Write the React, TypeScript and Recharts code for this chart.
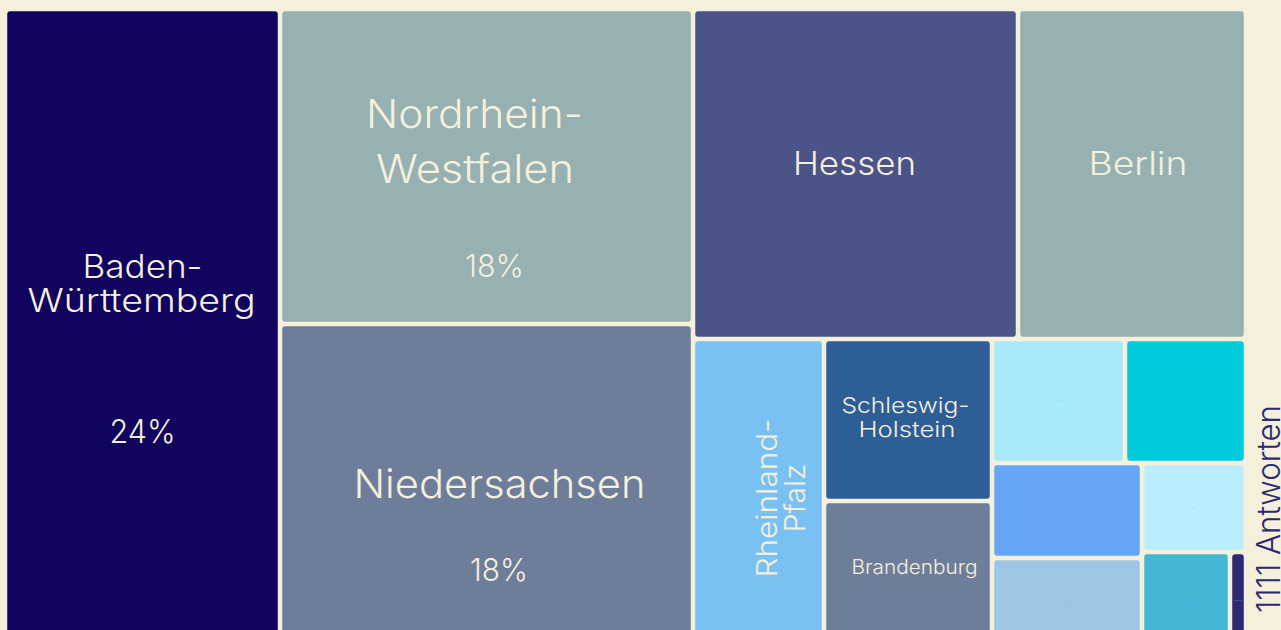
import React from 'react';
import { Treemap } from 'recharts';

// ---- data ----
const states = [
  'Baden-Württemberg',
  'Nordrhein-Westfalen',
  'Niedersachsen',
  'Hessen',
  'Berlin',
  'Rheinland-Pfalz',
  'Schleswig-Holstein',
  'Brandenburg',
  'Hamburg',
  'Sachsen',
  'Bayern',
  'Bremen',
  'Thüringen',
  'Sachsen-Anhalt',
  'Mecklenburg-Vorpommern',
];
const answers = [246, 182, 188, 150, 105, 57, 38, 35, 23, 21, 20, 19, 13, 12, 2];
const shareLabels = ['24%', '18%', '18%', '', '', '', '', '', '', '', '', '', '', '', ''];
const palette = [
  '#10045e',
  '#97b1b2',
  '#6e7d99',
  '#4b5388',
  '#97b1b2',
  '#78c1f2',
  '#2e5e96',
  '#6e7d99',
  '#a6eafc',
  '#00cadb',
  '#65a6f8',
  '#9cc6e4',
  '#bbeefd',
  '#44b6d6',
  '#2d2872',
];
const totalLabel = '1111 Antworten';

const data = states.map((name, i) => ({ name, value: answers[i], share: shareLabels[i] }));
const colorOf: Record<string, string> = {};
states.forEach((s, i) => (colorOf[s] = palette[i]));

// ---- styles ----
const BG = '#f5f0dc';
const TEXT = '#f5f0dc';
const FONT = 'Inter, "Open Sans", Lato, sans-serif';
const WEIGHT = 300;
const INSET = 2.25;

type LineSpec = { dx: number; dy: number; len: number };
type LabelSpec = {
  fs: number;
  rotate?: boolean;
  lines: LineSpec[];
  pct?: { fs: number; dx: number; dy: number; len: number };
};

const labelLayout: Record<string, LabelSpec> = {
  'Baden-Württemberg': {
    fs: 32,
    lines: [
      { dx: 0, dy: -51, len: 120 },
      { dx: -1, dy: -17, len: 228 },
    ],
    pct: { fs: 32, dx: 0, dy: 114, len: 66 },
  },
  'Nordrhein-Westfalen': {
    fs: 39,
    lines: [
      { dx: -12, dy: -39, len: 217 },
      { dx: -11.5, dy: 16, len: 198 },
    ],
    pct: { fs: 31, dx: 8, dy: 110, len: 59 },
  },
  Niedersachsen: {
    fs: 40,
    lines: [{ dx: 13, dy: 11, len: 292 }],
    pct: { fs: 31, dx: 12.5, dy: 94, len: 58 },
  },
  Hessen: { fs: 33, lines: [{ dx: -1, dy: 0.5, len: 123 }] },
  Berlin: { fs: 33, lines: [{ dx: 6, dy: 0.5, len: 99 }] },
  'Rheinland-Pfalz': {
    fs: 29,
    rotate: true,
    lines: [
      { dx: 18, dy: 4, len: 159 },
      { dx: 46, dy: 4, len: 69 },
    ],
  },
  'Schleswig-Holstein': {
    fs: 22,
    lines: [
      { dx: -2.5, dy: -7, len: 128 },
      { dx: -1, dy: 17, len: 97 },
    ],
  },
  Brandenburg: { fs: 19.5, lines: [{ dx: 6.5, dy: -1.5, len: 126 }] },
};

const splitName = (name: string) => name.split(/(?<=-)/);

const renderCell = (props: any) => {
  const { x, y, width, height, depth, name, share } = props;
  if (depth !== 1) return <g />;
  const cx = x + width / 2;
  const cy = y + height / 2;
  const spec = labelLayout[name];
  const parts = splitName(name);
  return (
    <g>
      <rect
        x={x + INSET}
        y={y + INSET}
        width={Math.max(0, width - 2 * INSET)}
        height={Math.max(0, height - 2 * INSET)}
        rx={3}
        ry={3}
        fill={colorOf[name]}
      />
      {spec ? (
        <g fontFamily={FONT} fontWeight={WEIGHT} fill={TEXT}>
          {spec.lines.map((l, i) => {
            const px = cx + l.dx;
            const py = cy + l.dy;
            return (
              <text
                key={i}
                x={px}
                y={py}
                fontSize={spec.fs}
                textAnchor="middle"
                textLength={l.len}
                lengthAdjust="spacingAndGlyphs"
                transform={spec.rotate ? `rotate(-90 ${px} ${py})` : undefined}
              >
                {parts[i]}
              </text>
            );
          })}
          {spec.pct && share ? (
            <text
              x={cx + spec.pct.dx}
              y={cy + spec.pct.dy}
              fontSize={spec.pct.fs}
              textAnchor="middle"
              textLength={spec.pct.len}
              lengthAdjust="spacingAndGlyphs"
            >
              {share}
            </text>
          ) : null}
        </g>
      ) : (
        <text
          x={cx}
          y={cy}
          fontSize={0.6}
          textAnchor="middle"
          fill="#4fc3e8"
          fontFamily={FONT}
        >
          {name}
        </text>
      )}
    </g>
  );
};

export default function App() {
  return (
    <div
      style={{
        position: 'absolute',
        left: 0,
        top: 0,
        width: 1281,
        height: 630,
        overflow: 'hidden',
        background: BG,
      }}
    >
      <div style={{ position: 'absolute', left: 4.5, top: 9 }}>
        <Treemap
          width={1241}
          height={640}
          data={data}
          dataKey="value"
          nameKey="name"
          aspectRatio={0.84}
          isAnimationActive={false}
          content={renderCell}
        />
      </div>
      <svg
        width={1281}
        height={630}
        style={{ position: 'absolute', left: 0, top: 0, pointerEvents: 'none' }}
      >
        <text
          transform="translate(1279.5 509) rotate(-90)"
          textAnchor="middle"
          fontFamily={FONT}
          fontWeight={WEIGHT}
          fontSize={32}
          fill="#2d2872"
          textLength={208}
          lengthAdjust="spacingAndGlyphs"
        >
          {totalLabel}
        </text>
      </svg>
    </div>
  );
}
